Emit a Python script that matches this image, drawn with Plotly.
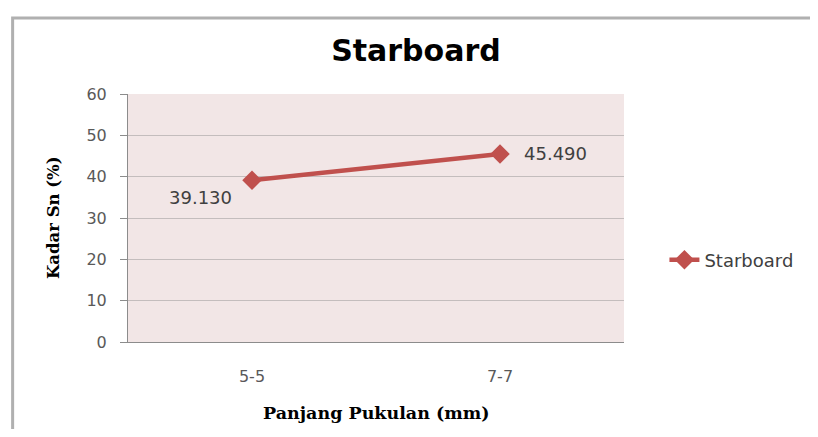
import plotly.graph_objects as go

categories = ["5-5", "7-7"]
values = [39.13, 45.49]
labels = ["39.130", "45.490"]
y_ticks = [0, 10, 20, 30, 40, 50, 60]

# Page body has an 8px margin: shift all reference coordinates by O
O = 8
W, H = 818 - 2 * O, 437 - 2 * O
L, R, T, B = 128 - O, 631 - O, 94 - O, 342 - O
pw, ph = R - L, B - T

SANS = "DejaVu Sans, Verdana, sans-serif"
SERIF = "DejaVu Serif, Liberation Serif, serif"
RED = "#C0504D"


def px(x):
    return (x - O - L) / pw


def py(y):
    return (B - (y - O)) / ph


fig = go.Figure()
fig.add_trace(go.Scatter(
    x=categories, y=values, mode="lines+markers",
    name="Starboard",
    line=dict(color=RED, width=4.5),
    marker=dict(symbol="diamond", size=15, color=RED),
))

label_shift = [dict(xshift=-52, yshift=-17, xanchor="center"),
               dict(xshift=22, yshift=0, xanchor="left")]
annotations = []
for c, v, t, s in zip(categories, values, labels, label_shift):
    annotations.append(dict(x=c, y=v, xref="x", yref="y", text=t, showarrow=False,
                            yanchor="middle",
                            font=dict(family=SANS, size=18, color="#404040"), **s))

annotations.append(dict(text="<b>Panjang Pukulan (mm)</b>", xref="paper", yref="paper",
                        x=px(380), y=py(413), xanchor="center", yanchor="middle",
                        showarrow=False, font=dict(family=SERIF, size=17.5, color="black")))
annotations.append(dict(text="<b>Kadar Sn (%)</b>", xref="paper", yref="paper",
                        x=px(52), y=py(218), xanchor="center", yanchor="middle",
                        textangle=-90, showarrow=False,
                        font=dict(family=SERIF, size=16.5, color="black")))

fig.update_layout(
    width=W, height=H,
    margin=dict(l=L, r=W - R, t=T, b=H - B),
    paper_bgcolor="white",
    plot_bgcolor="#F2E6E6",
    title=dict(text="<b>Starboard</b>", x=px(420), xref="paper", xanchor="center",
               y=1 - (50 - O) / H, yanchor="middle",
               font=dict(family=SANS, size=30, color="black")),
    xaxis=dict(
        type="category", range=[-0.5, 1.5],
        showgrid=False, showline=True, linecolor="#8C8C8C", linewidth=1,
        ticks="", ticklabelstandoff=20,
        tickfont=dict(family=SANS, size=16, color="#595959"),
    ),
    yaxis=dict(
        range=[0, 60], tickvals=y_ticks, showgrid=True, gridcolor="#C4BDBD", gridwidth=1,
        showline=True, linecolor="#8C8C8C", linewidth=1,
        ticks="outside", ticklen=7, tickcolor="#8C8C8C", ticklabelstandoff=10,
        tickfont=dict(family=SANS, size=16, color="#595959"),
        zeroline=False,
    ),
    showlegend=True,
    legend=dict(x=px(672), y=py(260), xanchor="left", yanchor="middle",
                bgcolor="rgba(0,0,0,0)",
                font=dict(family=SANS, size=18, color="#404040")),
    annotations=annotations,
    shapes=[dict(type="rect", xref="paper", yref="paper",
                 x0=px(11), x1=px(840), y0=py(460), y1=py(18),
                 line=dict(color="#B0B0B0", width=3), fillcolor="rgba(0,0,0,0)", layer="below")],
)

fig.write_html("out.html")
